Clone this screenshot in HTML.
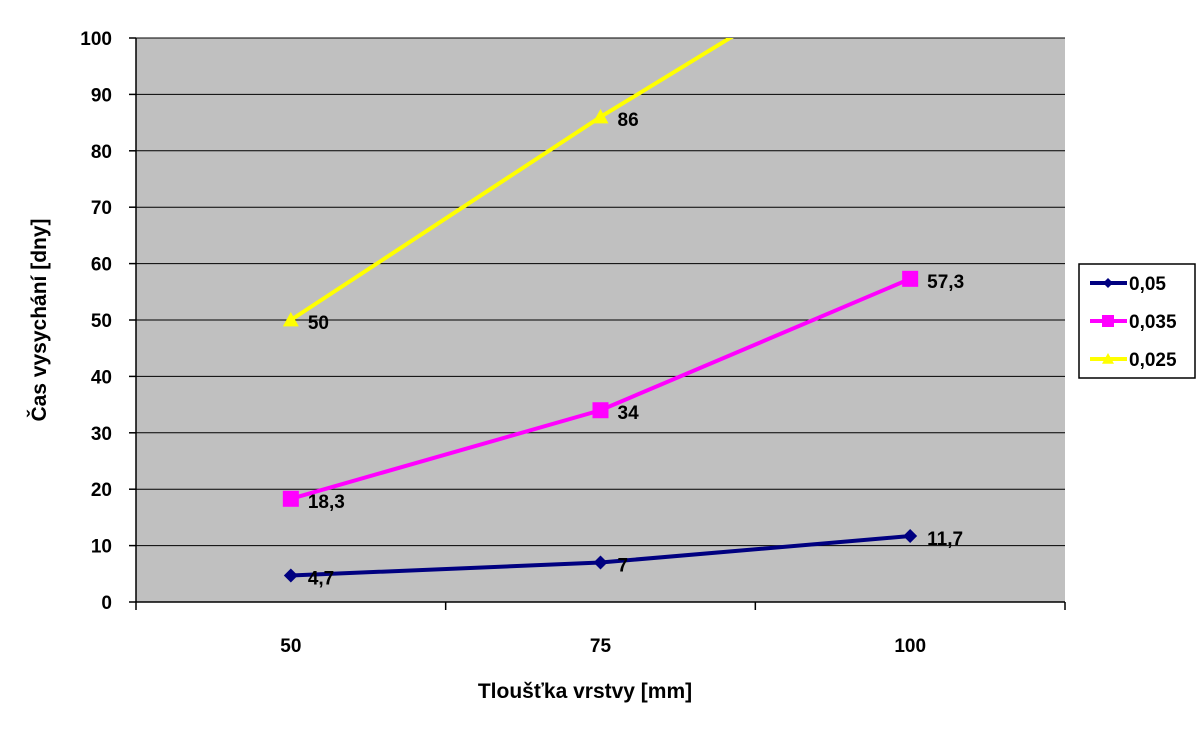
<!DOCTYPE html>
<html><head><meta charset="utf-8"><style>
html,body{margin:0;padding:0;background:#fff;}
svg{display:block;font-family:"Liberation Sans",Arial,sans-serif;font-weight:bold;}
</style></head><body>
<svg id="c" width="1200" height="741" viewBox="0 0 1200 741">
<defs><clipPath id="clip"><rect x="136" y="38" width="929" height="564"/></clipPath></defs>
<rect x="136" y="38" width="929" height="564" fill="#c0c0c0"/>
<g id="grid"></g><g id="axes"></g><g id="series" clip-path="url(#clip)"></g><g id="labels"></g>
<text x="585" y="698" font-size="21" text-anchor="middle">Tloušťka vrstvy [mm]</text>
<text transform="translate(46,320) rotate(-90)" font-size="21" text-anchor="middle">Čas vysychání [dny]</text>
<g>
<rect x="1079" y="264" width="116" height="114" fill="#fff" stroke="#000" stroke-width="1.5"/>
<g id="legend"></g>
</g>
</svg>
<script>
const categories=["50","75","100"];
const seriesNames=["0,05","0,035","0,025"];
const s1=[4.7,7,11.7];
const s2=[18.3,34,57.3];
const s3=[50,86,119.5];
const s1Labels=["4,7","7","11,7"];
const s2Labels=["18,3","34","57,3"];
const s3Labels=["50","86",""];
const yTicks=[0,10,20,30,40,50,60,70,80,90,100];
const NS="http://www.w3.org/2000/svg";
const X0=136,X1=1065,Y0=602,Y1=38;
const cw=(X1-X0)/categories.length;
const xs=i=>X0+cw*(i+0.5);
const ys=v=>Y0-(v/100)*(Y0-Y1);
function mk(t,a,p){const e=document.createElementNS(NS,t);for(const k in a)e.setAttribute(k,a[k]);p.appendChild(e);return e;}
const grid=document.getElementById('grid'),axes=document.getElementById('axes'),ser=document.getElementById('series'),lab=document.getElementById('labels'),leg=document.getElementById('legend');
yTicks.forEach(v=>{
 if(v>0){const l=mk('line',{x1:X0,x2:X1,y1:ys(v),y2:ys(v),stroke:'#000','stroke-width':1},grid);
 
 }
 mk('line',{x1:129,x2:X0,y1:ys(v),y2:ys(v),stroke:'#000','stroke-width':1.5},axes);
 const t=mk('text',{x:112,y:ys(v)+7,'font-size':19,'text-anchor':'end'},axes);t.textContent=v;
 
 
});
mk('line',{x1:X0,x2:X0,y1:Y1,y2:Y0,stroke:'#000','stroke-width':1.5},axes);
mk('line',{x1:X0,x2:X1,y1:Y0,y2:Y0,stroke:'#000','stroke-width':1.5},axes);
for(let i=0;i<=categories.length;i++)mk('line',{x1:X0+cw*i,x2:X0+cw*i,y1:Y0,y2:Y0+8,stroke:'#000','stroke-width':1.5},axes);
categories.forEach((c,i)=>{const t=mk('text',{x:xs(i),y:652,'font-size':19,'text-anchor':'middle'},axes);t.textContent=c;
 
 });
function marker(type,x,y,col,p,s){
 if(type==='d')return mk('polygon',{points:`${x},${y-s} ${x+s},${y} ${x},${y+s} ${x-s},${y}`,fill:col},p);
 if(type==='s')return mk('rect',{x:x-s,y:y-s,width:2*s,height:2*s,fill:col},p);
 return mk('polygon',{points:`${x},${y-s} ${x+s},${y+s*0.8} ${x-s},${y+s*0.8}`,fill:col},p);
}
const defs=[[s1,s1Labels,'#000080','d',7],[s2,s2Labels,'#ff00ff','s',8],[s3,s3Labels,'#ffff00','t',8]];
defs.forEach(([d,L,col,m,sz],k)=>{
 const pl=mk('polyline',{points:d.map((v,i)=>xs(i)+','+ys(v)).join(' '),fill:'none',stroke:col,'stroke-width':4},ser);
 
 
 d.forEach((v,i)=>{const mm=marker(m,xs(i),ys(v),col,ser,sz);
  
  
  if(L[i]){const t=mk('text',{x:xs(i)+17,y:ys(v)+9,'font-size':19},lab);t.textContent=L[i];
  
  }
 });
 const ly=283+k*38;
 mk('line',{x1:1090,x2:1127,y1:ly,y2:ly,stroke:col,'stroke-width':4},leg);
 marker(m,1108,ly,col,leg,sz-2);
 const t=mk('text',{x:1129,y:ly+7,'font-size':19},leg);t.textContent=seriesNames[k];
 
 
});
</script>
</body></html>
